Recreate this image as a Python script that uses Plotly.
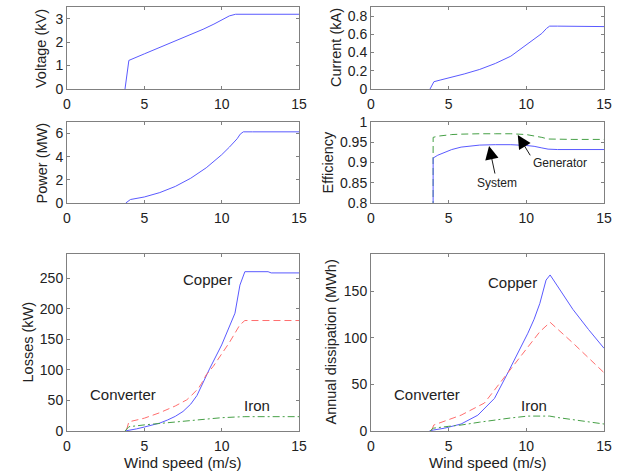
import plotly.graph_objects as go

# ---------------- data ----------------
x_ticks = [0, 5, 10, 15]

volt_x = [3.75, 4.0, 5, 6, 7, 8, 8.8, 9.5, 10.1, 10.5, 10.9, 12, 13, 14, 15]
voltage_kv = [0, 1.22, 1.50, 1.77, 2.05, 2.32, 2.55, 2.77, 3.00, 3.12, 3.19, 3.19, 3.19, 3.19, 3.19]

curr_x = [3.8, 4.05, 4.5, 5, 6, 7, 8, 9, 10, 10.5, 11, 11.3, 11.5, 12, 13, 14, 15]
current_ka = [0, 0.08, 0.10, 0.12, 0.165, 0.215, 0.28, 0.36, 0.48, 0.54, 0.61, 0.665, 0.69, 0.69, 0.69, 0.685, 0.685]

pow_x = [3.8, 4.1, 5, 6, 7, 8, 9, 10, 10.5, 11, 11.2, 11.4, 12, 13, 14, 15]
power_mw = [0, 0.30, 0.52, 0.90, 1.43, 2.14, 3.04, 4.17, 4.83, 5.55, 5.95, 6.15, 6.15, 6.15, 6.15, 6.15]

eff_x = [3.99, 4.0, 4.3, 4.7, 5.2, 5.8, 6.5, 7, 8, 9, 10, 10.5, 11, 11.4, 12, 13, 14, 15]
gen_eff = [0, 0.962, 0.965, 0.967, 0.969, 0.970, 0.971, 0.971, 0.971, 0.971, 0.969, 0.966, 0.962, 0.958, 0.957, 0.957, 0.957, 0.957]
sys_eff = [0, 0.911, 0.918, 0.925, 0.932, 0.938, 0.942, 0.943, 0.944, 0.944, 0.942, 0.940, 0.936, 0.933, 0.932, 0.932, 0.932, 0.932]
eff_ticks = [0.8, 0.85, 0.9, 0.95, 1]
eff_tick_text = ["0.8", "0.85", "0.9", "0.95", "1"]

cu_loss_x = [3.75, 4.0, 4.5, 5, 5.5, 6, 6.5, 7, 7.5, 8, 8.4, 8.7, 9.24, 10, 10.5, 10.86, 11.18, 11.5, 13, 13.2, 15]
cu_loss_kw = [0, 1, 3.5, 6.5, 9.5, 13, 18, 24, 32, 44, 58, 75, 103, 141, 170, 193, 239, 261, 261, 259, 259]
conv_loss_x = [3.85, 4.0, 5, 6, 7, 7.74, 8, 8.5, 8.7, 9.0, 9.46, 9.9, 10.5, 11.18, 11.5, 15]
conv_loss_kw = [2, 15, 21, 30, 41, 51, 57, 70, 78, 92, 106, 122, 145, 174, 181, 181]
fe_loss_x = [3.75, 4.0, 5, 6, 7, 8, 9, 10, 11, 11.5, 15]
fe_loss_kw = [0, 7, 10, 12.5, 15, 17.5, 20, 21.8, 23, 23.5, 23.5]

cu_diss_x = [3.76, 4.0, 4.73, 5.8, 6.88, 7.95, 8.81, 9.5, 10.1, 10.5, 10.87, 11.27, 11.53, 12, 13, 14, 15]
cu_diss_mwh = [0, 1, 3, 7.5, 17, 35, 62.5, 85, 105, 120, 137, 162, 167.5, 155.7, 130.5, 109, 88.8]
conv_diss_x = [3.91, 4.04, 5.8, 7.3, 8.81, 9.5, 10.3, 10.87, 11.53, 13.03, 15]
conv_diss_mwh = [1, 6.4, 17, 30, 62.5, 77, 94, 106.6, 116.7, 94, 62.6]
fe_diss_x = [3.8, 4.0, 5, 5.8, 7, 7.95, 9, 10.1, 11, 11.5, 12, 13, 14, 15]
fe_diss_mwh = [0, 3, 5, 6.4, 9.5, 11.8, 14, 16, 16.5, 16, 14.5, 12, 9.8, 7.5]

# ---------------- layout helpers ----------------
W, H = 622, 471
BLUE = "rgb(90,90,255)"
RED = "rgb(255,110,110)"
GREEN = "rgb(70,160,70)"
BOX = "rgb(128,128,128)"
FONT = "Liberation Sans, Arial, sans-serif"

def xd(a, b):
    return [a / W, b / W]

def yd(top, bottom):
    return [1 - bottom / H, 1 - top / H]

panels = {
    1: (xd(67, 299), yd(7, 89)),
    2: (xd(371, 604), yd(7, 89)),
    3: (xd(67, 299), yd(122, 203)),
    4: (xd(371, 604), yd(122, 203)),
    5: (xd(67, 299), yd(254, 431)),
    6: (xd(371, 604), yd(254, 431)),
}
y_ranges = {1: [0, 3.5], 2: [0, 0.9], 3: [0, 7], 4: [0.8, 1.0], 5: [0, 290], 6: [0, 190]}
y_tickvals = {
    1: [0, 1, 2, 3],
    2: [0, 0.2, 0.4, 0.6, 0.8],
    3: [0, 2, 4, 6],
    4: eff_ticks,
    5: [0, 50, 100, 150, 200, 250],
    6: [0, 50, 100, 150],
}

fig = go.Figure()

def add(n, x, y, color, dash="solid"):
    sfx = "" if n == 1 else str(n)
    fig.add_trace(go.Scatter(x=x, y=y, mode="lines", xaxis="x" + sfx, yaxis="y" + sfx,
                             line=dict(color=color, width=1, dash=dash), showlegend=False,
                             hoverinfo="skip"))

DASH = "7px,4px"
DASHDOT = "7px,3px,2px,3px"

add(1, volt_x, voltage_kv, BLUE)
add(2, curr_x, current_ka, BLUE)
add(3, pow_x, power_mw, BLUE)
add(4, eff_x, gen_eff, GREEN, DASH)
add(4, eff_x, sys_eff, BLUE)
add(5, cu_loss_x, cu_loss_kw, BLUE)
add(5, conv_loss_x, conv_loss_kw, RED, DASH)
add(5, fe_loss_x, fe_loss_kw, GREEN, DASHDOT)
add(6, cu_diss_x, cu_diss_mwh, BLUE)
add(6, conv_diss_x, conv_diss_mwh, RED, DASH)
add(6, fe_diss_x, fe_diss_mwh, GREEN, DASHDOT)

layout = dict(template="none", width=W, height=H, margin=dict(l=0, r=0, t=0, b=0, pad=0),
              paper_bgcolor="white", plot_bgcolor="white",
              font=dict(family=FONT, size=14, color="#222"), showlegend=False)

for n, (xdom, ydom) in panels.items():
    sfx = "" if n == 1 else str(n)
    common = dict(showline=True, linecolor=BOX, linewidth=1, mirror="ticks", ticks="inside",
                  ticklen=3, tickcolor=BOX, showgrid=False, zeroline=False, automargin=False,
                  tickfont=dict(family=FONT, size=14, color="#222"))
    layout["xaxis" + sfx] = dict(domain=xdom, range=[0, 15], tickvals=x_ticks,
                                 anchor="y" + sfx, ticklabelstandoff=2, **common)
    yax = dict(domain=ydom, range=y_ranges[n], tickvals=y_tickvals[n],
               anchor="x" + sfx, **common)
    if n == 4:
        yax["ticktext"] = eff_tick_text
    layout["yaxis" + sfx] = yax

fig.update_layout(**layout)

# axis titles
def ytitle(text, xpx, top, bottom):
    fig.add_annotation(text=text, xref="paper", yref="paper", x=xpx / W,
                       y=1 - (top + bottom) / 2 / H, textangle=-90, showarrow=False,
                       xanchor="center", yanchor="middle",
                       font=dict(family=FONT, size=14.5, color="#222"))

ytitle("Voltage (kV)", 41, 7, 89)
ytitle("Current (kA)", 336, 7, 89)
ytitle("Power (MW)", 41, 122, 203)
ytitle("Efficiency", 327, 122, 203)
ytitle("Losses (kW)", 27, 254, 431)
ytitle("Annual dissipation (MWh)", 330, 254, 431)

for cx in [(67 + 299) / 2, (371 + 604) / 2]:
    fig.add_annotation(text="Wind speed (m/s)", xref="paper", yref="paper", x=cx / W,
                       y=1 - 462 / H, showarrow=False, xanchor="center", yanchor="middle",
                       font=dict(family=FONT, size=15, color="#222"))

# in-plot labels and arrows
def lab(n, text, x, y, size):
    fig.add_annotation(text=text, xref="x" + str(n), yref="y" + str(n), x=x, y=y,
                       showarrow=False, xanchor="center", yanchor="middle",
                       font=dict(family=FONT, size=size, color="#222"))

def arrow(n, x, y, ax, ay):
    fig.add_annotation(text="", xref="x" + str(n), yref="y" + str(n), x=x, y=y,
                       axref="x" + str(n), ayref="y" + str(n), ax=ax, ay=ay,
                       showarrow=True, arrowhead=2, arrowsize=3, arrowwidth=0.9,
                       arrowcolor="black", standoff=0, startstandoff=0)

lab(4, "Generator", 12.15, 0.8995, 12)
lab(4, "System", 8.09, 0.850, 12)
arrow(4, 9.45, 0.968, 10.31, 0.914)
arrow(4, 7.6, 0.941, 8.0, 0.869)

lab(5, "Copper", 9.07, 248.5, 15)
lab(5, "Converter", 3.64, 59, 15)
lab(5, "Iron", 12.26, 41.5, 15)
lab(6, "Copper", 9.12, 159.2, 15)
lab(6, "Converter", 3.61, 39.4, 15)
lab(6, "Iron", 10.47, 27.2, 15)

fig.write_html(
    "out.html",
    config={"displayModeBar": False, "staticPlot": True},
    post_script="document.body.style.margin='0';document.body.style.overflow='hidden';",
)
